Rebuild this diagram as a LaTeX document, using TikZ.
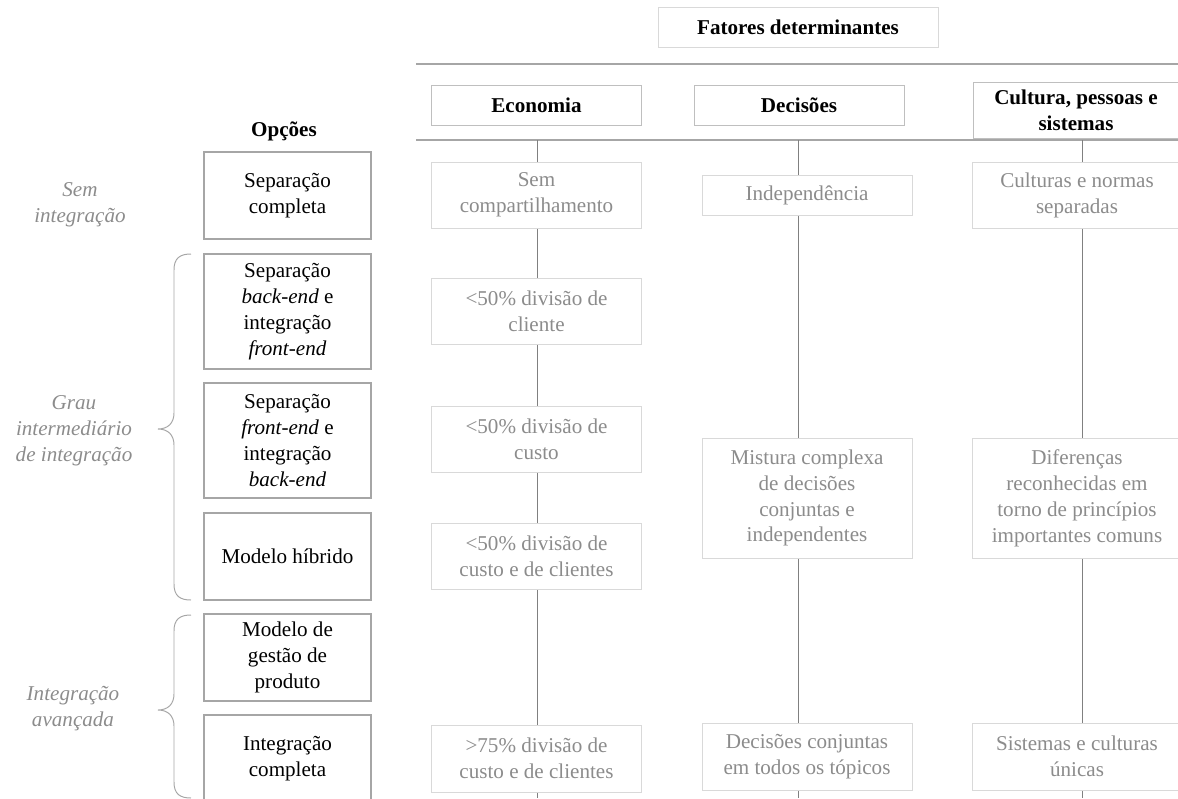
\documentclass[tikz,border=0pt]{standalone}
\usepackage{fontspec}
\setmainfont{Liberation Serif}
\definecolor{rulegray}{HTML}{A6A6A6}
\definecolor{boxgray}{HTML}{D9D9D9}
\definecolor{headgray}{HTML}{BFBFBF}
\definecolor{linegray}{HTML}{808080}
\definecolor{txtgray}{HTML}{8C8C8C}

\begin{document}
\begin{tikzpicture}[x=0.025cm, y=-0.025cm,
    every node/.style={font=\fontsize{15}{18.4}\selectfont, inner sep=0pt, align=center},
    boxh/.style={minimum height=#1*0.025cm},
    optbox/.style={draw=rulegray, line width=1.4pt, fill=white, minimum width=4.175cm},
    headbox/.style={draw=headgray, line width=0.6pt, fill=white, minimum width=5.25cm,
        font=\fontsize{15}{18.4}\selectfont\bfseries},
    factbox/.style={draw=boxgray, line width=0.6pt, fill=white, minimum width=5.25cm, text=txtgray},
    sidelabel/.style={text=txtgray, font=\fontsize{15}{18.4}\selectfont\itshape},
    colline/.style={draw=linegray, line width=0.7pt},
    toprule/.style={draw=rulegray, line width=1.5pt},
    bracket/.style={draw=rulegray, line width=0.7pt}]

        \useasboundingbox (0,0) rectangle (1178,798);

        % Title
        \node[factbox, text=black, font=\fontsize{15}{18.4}\selectfont\bfseries,
            minimum width=7cm, boxh=40] (fatores) at (798,27) {Fatores determinantes};

        % Rules above and below the headers
        \coordinate (ruleA-w) at (416,64);
        \coordinate (ruleA-e) at (1178,64);
        \coordinate (ruleB-w) at (416,140);
        \coordinate (ruleB-e) at (1178,140);
        \draw[toprule] (ruleA-w) -- (ruleA-e);
        \draw[toprule] (ruleB-w) -- (ruleB-e);

        % Column lines
        \foreach \name/\x in {eco/537, dec/798, cul/1082} {
            \coordinate (\name-top) at (\x,140);
            \coordinate (\name-bot) at (\x,798);
            \draw[colline] (\name-top) -- (\name-bot);
        }

        % Headers
        \node[headbox, boxh=40] (economia) at (536.5,105) {Economia};
        \node[headbox, boxh=40] (decisoes) at (799,105) {Decisões};
        \node[headbox, boxh=56, minimum width=5.15cm] (cultura) at (1076,110) {Cultura, pessoas e\\sistemas};

        % Options
        \node[font=\fontsize{15}{18.4}\selectfont\bfseries] (opcoes) at (284,131) {Opções};
        \node[optbox, boxh=87] (opt-sep) at (287.5,195.5) {Separação\\completa};
        \node[optbox, boxh=115] (opt-back) at (287.5,311.5) {Separação\\\textit{back-end} e\\integração\\\textit{front-end}};
        \node[optbox, boxh=115] (opt-front) at (287.5,440.5) {Separação\\\textit{front-end} e\\integração\\\textit{back-end}};
        \node[optbox, boxh=87] (opt-hib) at (287.5,556.5) {Modelo híbrido};
        \node[optbox, boxh=87] (opt-gest) at (287.5,657.5) {Modelo de\\gestão de\\produto};
        \node[optbox, boxh=87] (opt-int) at (287.5,758.5) {Integração\\completa};

        % Groups of options
        \node[sidelabel] (sem) at (80,205) {Sem\\integração};
        \node[sidelabel] (grau) at (74,431) {Grau\\intermediário\\de integração};
        \node[sidelabel] (avanc) at (73,709) {Integração\\avançada};

        \draw[bracket] (191,254) .. controls (180,254) and (174,258) .. (174,270) -- (174,413)
            .. controls (174,423) and (168,429) .. (158,429) .. controls (168,429) and (174,435) .. (174,445)
            -- (174,584) .. controls (174,596) and (180,600) .. (191,600);
        \draw[bracket] (191,615) .. controls (180,615) and (174,619) .. (174,631) -- (174,694)
            .. controls (174,704) and (168,710) .. (158,710) .. controls (168,710) and (174,716) .. (174,726)
            -- (174,782) .. controls (174,794) and (180,798) .. (191,798);

        % Economia
        \node[factbox, boxh=66] (eco-1) at (536.5,195) {Sem\\compartilhamento};
        \node[factbox, boxh=66] (eco-2) at (536.5,311) {<50\% divisão de\\cliente};
        \node[factbox, boxh=66] (eco-3) at (536.5,439) {<50\% divisão de\\custo};
        \node[factbox, boxh=66] (eco-4) at (536.5,556) {<50\% divisão de\\custo e de clientes};
        \node[factbox, boxh=67] (eco-5) at (536.5,758.5) {>75\% divisão de\\custo e de clientes};

        % Decisoes
        \node[factbox, boxh=40] (dec-1) at (807,195) {Independência};
        \node[factbox, boxh=120] (dec-2) at (807,498) {Mistura complexa\\de decisões\\conjuntas e\\independentes};
        \node[factbox, boxh=67] (dec-3) at (807,756.5) {Decisões conjuntas\\em todos os tópicos};

        % Cultura
        \node[factbox, boxh=66] (cul-1) at (1077,195) {Culturas e normas\\separadas};
        \node[factbox, boxh=120] (cul-2) at (1077,498) {Diferenças\\reconhecidas em\\torno de princípios\\importantes comuns};
        \node[factbox, boxh=67] (cul-3) at (1077,756.5) {Sistemas e culturas\\únicas};

    \end{tikzpicture}
\end{document}
